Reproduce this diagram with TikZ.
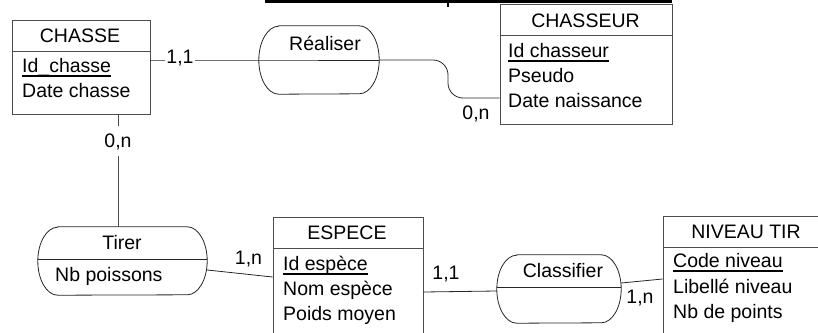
\documentclass[tikz,border=0pt]{standalone}
\usepackage{fontspec}
\setmainfont{Liberation Sans}
\usetikzlibrary{calc}
\newcommand{\souligne}[1]{\setbox0\hbox{#1}\rlap{\rule[-4.6pt]{\wd0}{1.7pt}}\box0}
% outline of an association: flat top and bottom, elliptic sides
\newcommand{\assocforme}[1]{%
	\draw [draw=black!85, line width=0.8pt] ($(#1.north west)+(20,0)$) -- ($(#1.north east)+(-20,0)$)
		arc [start angle=-90, end angle=90, x radius=20, y radius=34]
		-- ($(#1.south west)+(20,0)$)
		arc [start angle=90, end angle=270, x radius=20, y radius=34] -- cycle ;}
\begin{document}
\begin{tikzpicture}[x=1pt,y=1pt,yscale=-1,xscale=1,
	entite/.style={draw=black!70, line width=0.8pt, inner sep=0pt},
	assoc/.style={inner sep=0pt, minimum height=68pt},
	lien/.style={draw=black!85, line width=0.8pt},
	txt/.style={anchor=base, inner sep=0pt, font=\fontsize{19.5}{23}\selectfont},
	attr/.style={txt, anchor=base west},
	cardsurlien/.style={txt, fill=white, inner xsep=1.5pt, inner ysep=7pt}]
	\useasboundingbox (0,0) rectangle (818,332);
	
	%Title (cut off)
	\draw [line width=3pt] (265,1.5) -- (672,1.5) ;
	\draw [line width=2pt] (448,3) -- (448,6.5) ;
	
	%Entities
	\node [entite, minimum width=138pt, minimum height=94pt] (chasse) at (81,67) {};
	\node [entite, minimum width=172pt, minimum height=120pt] (chasseur) at (586,64) {};
	\node [entite, minimum width=150pt, minimum height=130pt] (espece) at (348,282) {};
	\node [entite, minimum width=170pt, minimum height=130pt] (niveau) at (748,281) {};
	\foreach \e in {chasse,chasseur,espece,niveau}
		\draw [draw=black!70, line width=0.8pt] ($(\e.north west)+(0,32)$) -- ($(\e.north east)+(0,32)$) ;
	
	%Associations
	\node [assoc, minimum width=120pt] (realiser) at (319,60) {};
	\node [assoc, minimum width=169pt] (tirer) at (122.5,261) {};
	\node [assoc, minimum width=124pt] (classifier) at (559,289) {};
	\foreach \a in {realiser,tirer,classifier}
		\assocforme{\a}
	\draw [lien] ($(tirer.west)+(0,-2)$) -- ($(tirer.east)+(0,-2)$) ;
	\draw [lien] ($(classifier.west)+(0,-2)$) -- ($(classifier.east)+(0,-2)$) ;
	
	% Text Node
	\node [txt] (tchasse) at (80,42) {CHASSE};
	\node [attr] (idchasse) at (22,72) {\souligne{Id\_chasse}};
	\node [attr] (datechasse) at (22,97) {Date chasse};
	% Text Node
	\node [txt] (tchasseur) at (585.5,27) {CHASSEUR};
	\node [attr] (idchasseur) at (508,57) {\souligne{Id chasseur}};
	\node [attr] (pseudo) at (508,82) {Pseudo};
	\node [attr] (datenaiss) at (508,107) {Date naissance};
	% Text Node
	\node [txt] (tespece) at (347,239) {ESPECE};
	\node [attr] (idespece) at (283,270) {\souligne{Id espèce}};
	\node [attr] (nomespece) at (283,295) {Nom espèce};
	\node [attr] (poids) at (283,320) {Poids moyen};
	% Text Node
	\node [txt] (tniveau) at (746,238) {NIVEAU TIR};
	\node [attr] (codeniv) at (673,267) {\souligne{Code niveau}};
	\node [attr] (libniv) at (673,293) {Libellé niveau};
	\node [attr] (nbpoints) at (673,318) {Nb de points};
	% Text Node
	\node [txt] (trealiser) at (325,50) {Réaliser};
	\node [txt] (ttirer) at (122,249) {Tirer};
	\node [attr] (nbpoissons) at (55,281) {Nb poissons};
	\node [txt] (tclassifier) at (563,277) {Classifier};
	
	%Links
	\coordinate (coude) at (448,98);
	\draw [lien] (chasse.east |- realiser.west) -- (realiser.west) -- (realiser.east) ;
	\draw [lien, rounded corners=15pt] (realiser.east) -- (realiser.east -| coude) -- (coude) -- (chasseur.west |- coude) ;
	\node [txt] (c2) at (476,119) {0,n};
	\node [cardsurlien] (c1) at (180,63) {1,1};
	
	\node [txt] (c3pos) at (118,147) {\phantom{0,n}};
	\draw [draw=black!70, line width=0.8pt] (chasse.south -| c3pos) -- (tirer.north -| c3pos) ;
	\node [cardsurlien] (c3) at (118,147) {0,n};
	
	\draw [lien] ($(tirer.east)+(0,9)$) -- ($(espece.west)+(0,-5)$) ;
	\node [txt] (c4) at (248.5,264) {1,n};
	
	\draw [lien] ($(espece.east)+(0,10)$) -- ($(classifier.west)+(0,2)$) ;
	\node [txt] (c5) at (446,279) {1,1};
	
	\draw [lien] ($(classifier.east)+(0,-6)$) -- ($(niveau.west)+(0,-2)$) ;
	\node [txt] (c6) at (640,303) {1,n};
\end{tikzpicture}
\end{document}
